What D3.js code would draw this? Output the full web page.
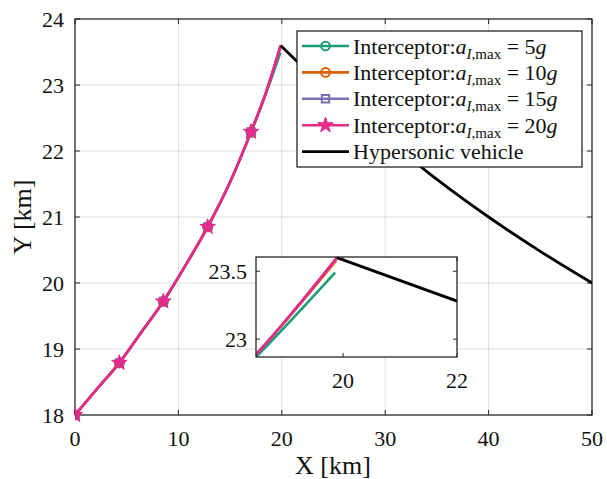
<!DOCTYPE html>
<html>
<head>
<meta charset="utf-8">
<script src="https://cdn.jsdelivr.net/npm/d3@7"></script>
</head>
<body style="margin:0">
<svg id="chart" width="607" height="479"></svg>
<script>
// interceptor trajectories (km)
const xInterceptor = [0, 2.1, 4.29, 6.4, 8.54, 10.7, 12.83, 15.0, 17.02, 18.5, 19.89];
const x5g = [0, 2.1, 4.29, 6.4, 8.54, 10.7, 12.83, 15.0, 17.02, 18.5, 19.86];
const y5g = [18, 18.39, 18.79, 19.25, 19.72, 20.27, 20.85, 21.53, 22.28, 22.88, 23.49];
const x10g = [0, 2.1, 4.29, 6.4, 8.54, 10.7, 12.83, 15.0, 17.02, 18.5, 19.88];
const y10g = [18, 18.39, 18.79, 19.25, 19.72, 20.27, 20.85, 21.53, 22.29, 22.9, 23.58];
const y15g = [18, 18.39, 18.79, 19.25, 19.72, 20.27, 20.85, 21.53, 22.29, 22.9, 23.6];
const y20g = [18, 18.39, 18.79, 19.25, 19.72, 20.27, 20.85, 21.53, 22.29, 22.9, 23.6];
// hypersonic vehicle
const xHv = [19.89, 22, 25, 30, 35, 40, 45, 50];
const yHv = [23.6, 23.28, 22.85, 22.2, 21.57, 21.0, 20.48, 20.0];
// which samples carry a marker
const markerIdx = [0, 2, 4, 6, 8];

const xTicks = [0, 10, 20, 30, 40, 50];
const yTicks = [18, 19, 20, 21, 22, 23, 24];
const xTicksInset = [20, 22];
const yTicksInset = [23, 23.5];

const series = [
  {name: "5", xs: x5g, ys: y5g, color: "#1b9e77", marker: "circle"},
  {name: "10", xs: x10g, ys: y10g, color: "#d95f02", marker: "circle"},
  {name: "15", xs: xInterceptor, ys: y15g, color: "#7570b3", marker: "square"},
  {name: "20", xs: xInterceptor, ys: y20g, color: "#e7298a", marker: "star"}
];
const hv = {xs: xHv, ys: yHv, color: "#000"};

// put the serif font straight on a text node, same way for every label
function serif(sel) {
  return sel.style("font-family", "'Liberation Serif'");
}

const svg = d3.select("#chart");
svg.append("rect").attr("width", 607).attr("height", 479).attr("fill", "#fff");

const x = d3.scaleLinear().domain([0, 50]).range([75, 592]);
const y = d3.scaleLinear().domain([18, 24]).range([415, 19]);

//grid
const grid = svg.append("g").attr("stroke", "#dfdfdf").attr("stroke-width", 1);
grid.selectAll(".gx").data(xTicks.slice(1, -1)).enter().append("line")
  .attr("x1", d => x(d)).attr("x2", d => x(d)).attr("y1", 19).attr("y2", 415);
grid.selectAll(".gy").data(yTicks.slice(1, -1)).enter().append("line")
  .attr("y1", d => y(d)).attr("y2", d => y(d)).attr("x1", 75).attr("x2", 592);

// ticks and box, labels written as plain text nodes
function drawAxes(root, xs, ys, xt, yt, tick, padX, padY) {
  const [x0, x1] = xs.range(), [y0, y1] = ys.range();
  const tk = root.append("g").attr("stroke", "#262626").attr("stroke-width", 1);
  xt.forEach(v => {
    tk.append("line").attr("x1", xs(v)).attr("x2", xs(v)).attr("y1", y0).attr("y2", y0 - tick);
    tk.append("line").attr("x1", xs(v)).attr("x2", xs(v)).attr("y1", y1).attr("y2", y1 + tick);
  });
  yt.forEach(v => {
    tk.append("line").attr("y1", ys(v)).attr("y2", ys(v)).attr("x1", x0).attr("x2", x0 + tick);
    tk.append("line").attr("y1", ys(v)).attr("y2", ys(v)).attr("x1", x1).attr("x2", x1 - tick);
  });
  root.selectAll(null).data(xt).enter().append("text")
    .attr("x", d => xs(d)).attr("y", y0 + padX).attr("text-anchor", "middle")
    .attr("font-size", 22).attr("fill", "#111").call(serif).text(d => d);
  root.selectAll(null).data(yt).enter().append("text")
    .attr("x", x0 - padY).attr("y", d => ys(d) + 7.5).attr("text-anchor", "end")
    .attr("font-size", 22).attr("fill", "#111").call(serif).text(d => d);
  root.append("rect").attr("x", x0).attr("y", y1).attr("width", x1 - x0).attr("height", y0 - y1)
    .attr("fill", "none").attr("stroke", "#262626").attr("stroke-width", 1.3);
}

function drawLines(root, xs, ys, withMarkers) {
  const line = d3.line().x(d => xs(d[0])).y(d => ys(d[1])).curve(d3.curveMonotoneX);
  series.forEach(s => {
    const pts = d3.zip(s.xs, s.ys);
    root.append("path").datum(pts).attr("d", line)
      .attr("fill", "none").attr("stroke", s.color).attr("stroke-width", 2.6);
    if (withMarkers) {
      const mk = markerIdx.map(i => pts[i]);
      drawMarkers(root, mk.map(p => [xs(p[0]), ys(p[1])]), s);
    }
  });
  root.append("path").datum(d3.zip(hv.xs, hv.ys)).attr("d", line)
    .attr("fill", "none").attr("stroke", hv.color).attr("stroke-width", 2.8);
}

function drawMarkers(root, pts, s) {
  const sym = {
    circle: d3.symbol(d3.symbolCircle, 60),
    square: d3.symbol(d3.symbolSquare, 55),
    star: d3.symbol(d3.symbolStar, 75)
  }[s.marker];
  root.selectAll(null).data(pts).enter().append("path")
    .attr("transform", d => "translate(" + d[0] + "," + d[1] + ")")
    .attr("d", sym)
    .attr("fill", s.marker === "star" ? s.color : "none")
    .attr("stroke", s.color).attr("stroke-width", s.marker === "star" ? 1 : 2);
}

// main axes
drawAxes(svg, x, y, xTicks, yTicks, 5, 31, 11);
svg.append("clipPath").attr("id", "clipMain").append("rect")
  .attr("x", 75).attr("y", 10).attr("width", 517).attr("height", 415);
drawLines(svg.append("g").attr("clip-path", "url(#clipMain)"), x, y, true);

svg.append("text").attr("x", 333).attr("y", 474).attr("text-anchor", "middle")
  .attr("font-size", 26).attr("fill", "#111").call(serif).text("X [km]");
svg.append("text").attr("transform", "translate(31,217) rotate(-90)").attr("text-anchor", "middle")
  .attr("font-size", 26).attr("fill", "#111").call(serif).text("Y [km]");

// legend
const leg = svg.append("g");
leg.append("rect").attr("x", 297).attr("y", 31).attr("width", 285).attr("height", 136)
  .attr("fill", "#fff").attr("stroke", "#262626").attr("stroke-width", 1.3);
const legItems = series.concat([{name: "hv", color: "#000", marker: null}]);
legItems.forEach((s, i) => {
  const cy = 46 + i * 26.4;
  leg.append("line").attr("x1", 302).attr("x2", 349).attr("y1", cy).attr("y2", cy)
    .attr("stroke", s.color).attr("stroke-width", s.marker ? 2.6 : 2.8);
  if (s.marker) drawMarkers(leg, [[325.5, cy]], s);
  const t = leg.append("text").attr("x", 353).attr("y", cy + 7.5).attr("font-size", 22)
    .attr("fill", "#111").call(serif);
  if (!s.marker) { t.text("Hypersonic vehicle"); return; }
  t.append("tspan").text("Interceptor:");
  t.append("tspan").attr("font-style", "italic").text("a");
  t.append("tspan").attr("font-size", 15).attr("dy", 5).attr("font-style", "italic").text("I");
  t.append("tspan").attr("font-size", 15).text(",max");
  t.append("tspan").attr("dy", -5).text(" = " + s.name);
  t.append("tspan").attr("font-style", "italic").text("g");
});

// inset
const xi = d3.scaleLinear().domain([18.47, 22]).range([256, 457]);
const yi = d3.scaleLinear().domain([22.868, 23.605]).range([357, 257]);
const inset = svg.append("g");
inset.append("rect").attr("x", 256).attr("y", 257).attr("width", 201).attr("height", 100).attr("fill", "#fff");
svg.append("clipPath").attr("id", "clipInset").append("rect")
  .attr("x", 256).attr("y", 255).attr("width", 201).attr("height", 102);
drawLines(inset.append("g").attr("clip-path", "url(#clipInset)"), xi, yi, false);
drawAxes(inset, xi, yi, xTicksInset, yTicksInset, 4, 31, 9);
</script>
</body>
</html>
